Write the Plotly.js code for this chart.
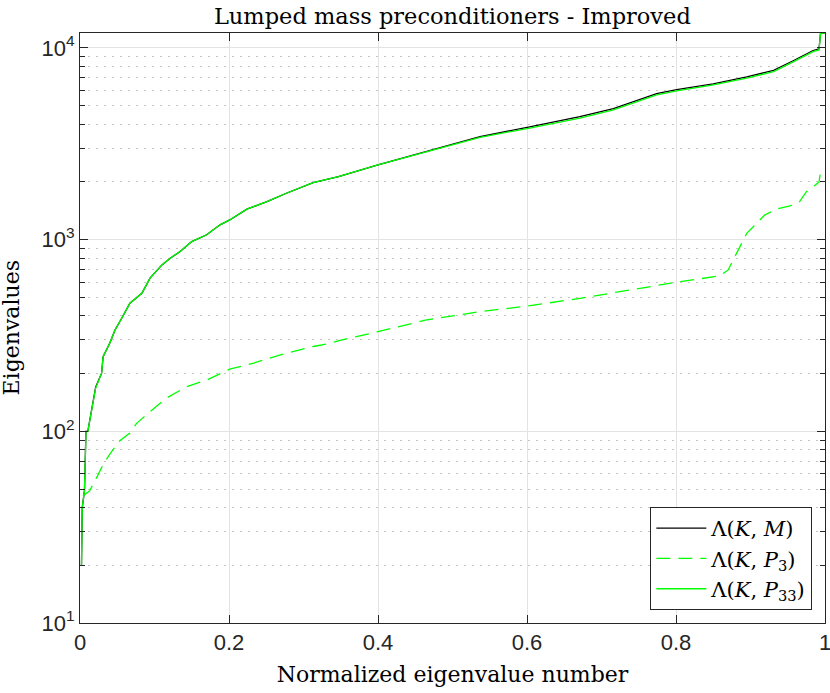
<!DOCTYPE html>
<html>
<head>
<meta charset="utf-8">
<script src="https://cdn.plot.ly/plotly-3.0.1.min.js"></script>
<style>html,body{margin:0;padding:0;background:#fff;}#plot{width:830px;height:693px;}</style>
</head>
<body>
<div id="plot"></div>
<script>
// ---- data ----
const xKM  = [0.002, 0.003, 0.006, 0.008, 0.0105, 0.0157, 0.021, 0.029, 0.031, 0.040, 0.047, 0.056, 0.067, 0.083, 0.094, 0.110, 0.121, 0.134, 0.150, 0.170, 0.188, 0.201, 0.224, 0.251, 0.277, 0.313, 0.336, 0.347, 0.400, 0.465, 0.537, 0.602, 0.671, 0.716, 0.774, 0.801, 0.850, 0.895, 0.931, 0.958, 0.984, 0.992, 0.994, 1.0];
const yKM  = [20, 40, 49, 100, 100, 129, 170, 201, 245, 289, 338, 389, 466, 525, 630, 738, 800, 865, 977, 1060, 1195, 1267, 1442, 1579, 1746, 1983, 2075, 2131, 2454, 2890, 3450, 3860, 4380, 4830, 5780, 6060, 6500, 7060, 7640, 8600, 9700, 9900, 11950, 11950];

const xP3  = [0.004, 0.013, 0.022, 0.031, 0.042, 0.053, 0.067, 0.076, 0.089, 0.103, 0.116, 0.143, 0.170, 0.201, 0.233, 0.268, 0.313, 0.336, 0.349, 0.400, 0.465, 0.537, 0.602, 0.671, 0.801, 0.859, 0.870, 0.879, 0.886, 0.895, 0.904, 0.919, 0.935, 0.953, 0.966, 0.975, 0.987, 0.992, 0.994];
const yP3  = [46, 49, 57, 67, 78, 89, 98, 110, 122, 135, 149, 171, 185, 211, 227, 250, 277, 288, 298, 331, 381, 421, 451, 494, 600, 647, 695, 815, 918, 1079, 1170, 1345, 1445, 1500, 1580, 1780, 1930, 1995, 2260];

const xP33 = [0.002, 0.003, 0.006, 0.008, 0.0105, 0.0157, 0.021, 0.029, 0.031, 0.040, 0.047, 0.056, 0.067, 0.083, 0.094, 0.110, 0.121, 0.134, 0.150, 0.170, 0.188, 0.201, 0.224, 0.251, 0.277, 0.313, 0.336, 0.347, 0.400, 0.465, 0.537, 0.602, 0.671, 0.716, 0.774, 0.801, 0.850, 0.895, 0.931, 0.958, 0.984, 0.992, 0.994, 1.0];
const yP33 = [20, 40, 49, 100, 100, 129, 168, 201, 245, 289, 338, 389, 466, 525, 630, 738, 800, 865, 977, 1060, 1195, 1267, 1442, 1579, 1746, 1983, 2075, 2131, 2454, 2880, 3420, 3810, 4300, 4750, 5690, 5970, 6410, 6950, 7520, 8480, 9570, 9770, 11950, 11950];

const seriesNames = ['Λ(<i>K</i>, <i>M</i>)', 'Λ(<i>K</i>, <i>P</i><sub>3</sub>)', 'Λ(<i>K</i>, <i>P</i><sub>33</sub>)'];
const xTickVals = [0, 0.2, 0.4, 0.6, 0.8, 1];
const xTickText = ['0', '0.2', '0.4', '0.6', '0.8', '1'];
const yTickVals = [10, 100, 1000, 10000];
const yTickText = ['10<sup>1</sup>', '10<sup>2</sup>', '10<sup>3</sup>', '10<sup>4</sup>'];
const minorDigits = [2, 3, 4, 5, 6, 7, 8, 9];
const decades = [10, 100, 1000, 10000];

const yMinor = [];
decades.forEach(d => minorDigits.forEach(m => yMinor.push(d * m)));

const green = '#00ff00';
const axisColor = '#262626';
const serif = 'DejaVu Serif';

const traces = [
  {x: xKM, y: yKM, type: 'scatter', mode: 'lines', name: seriesNames[0],
   line: {color: '#000000', width: 1.3}},
  {x: xP3, y: yP3, type: 'scatter', mode: 'lines', name: seriesNames[1],
   line: {color: green, width: 1.3, dash: '14px,8px'}},
  {x: xP33, y: yP33, type: 'scatter', mode: 'lines', name: seriesNames[2],
   line: {color: green, width: 1.3}}
];

const layout = {
  width: 830, height: 693,
  margin: {l: 80, r: 5, t: 33, b: 70},
  paper_bgcolor: '#ffffff', plot_bgcolor: '#ffffff',
  showlegend: true,
  title: {text: 'Lumped mass preconditioners - Improved',
          font: {family: serif, size: 22.5, color: '#000'},
          x: 0.545, xanchor: 'center', y: 0.977, yanchor: 'middle'},
  xaxis: {
    range: [0, 1], tickvals: xTickVals, ticktext: xTickText,
    ticks: 'inside', ticklen: 8, tickcolor: axisColor, tickwidth: 1,
    showline: true, linecolor: axisColor, linewidth: 1, mirror: 'allticks',
    showgrid: true, gridcolor: '#e3e3e3', gridwidth: 1, zeroline: false,
    ticklabeloverflow: 'allow',
    tickfont: {family: 'Liberation Sans', size: 22, color: axisColor},
    title: {text: 'Normalized eigenvalue number',
            font: {family: serif, size: 22, color: '#000'}, standoff: 12},
    automargin: false
  },
  yaxis: {
    type: 'log', range: [1, 4.078], tickvals: yTickVals, ticktext: yTickText,
    ticks: 'inside', ticklen: 8, tickcolor: axisColor, tickwidth: 1,
    showline: true, linecolor: axisColor, linewidth: 1, mirror: 'allticks',
    showgrid: true, gridcolor: '#e3e3e3', gridwidth: 1, zeroline: false,
    ticklabeloverflow: 'allow',
    tickfont: {family: 'Liberation Sans', size: 22, color: axisColor},
    minor: {tickvals: yMinor, ticks: 'inside', ticklen: 5, tickcolor: axisColor,
            showgrid: true, gridcolor: '#c4c4c4', griddash: '2px,6px', gridwidth: 1},
    automargin: false
  },
  annotations: [{
    text: 'Eigenvalues', xref: 'paper', yref: 'paper',
    x: -0.092, y: 0.5, xanchor: 'center', yanchor: 'middle',
    textangle: -90, showarrow: false,
    font: {family: serif, size: 22, color: '#000'}
  }],
  legend: {x: 0.983, y: 0.022, xanchor: 'right', yanchor: 'bottom',
           bgcolor: '#ffffff', bordercolor: axisColor, borderwidth: 1,
           font: {family: serif, size: 21, color: '#000'},
           itemwidth: 50, tracegroupgap: 0}
};

Plotly.newPlot('plot', traces, layout, {displayModeBar: false, staticPlot: true});
</script>
</body>
</html>
